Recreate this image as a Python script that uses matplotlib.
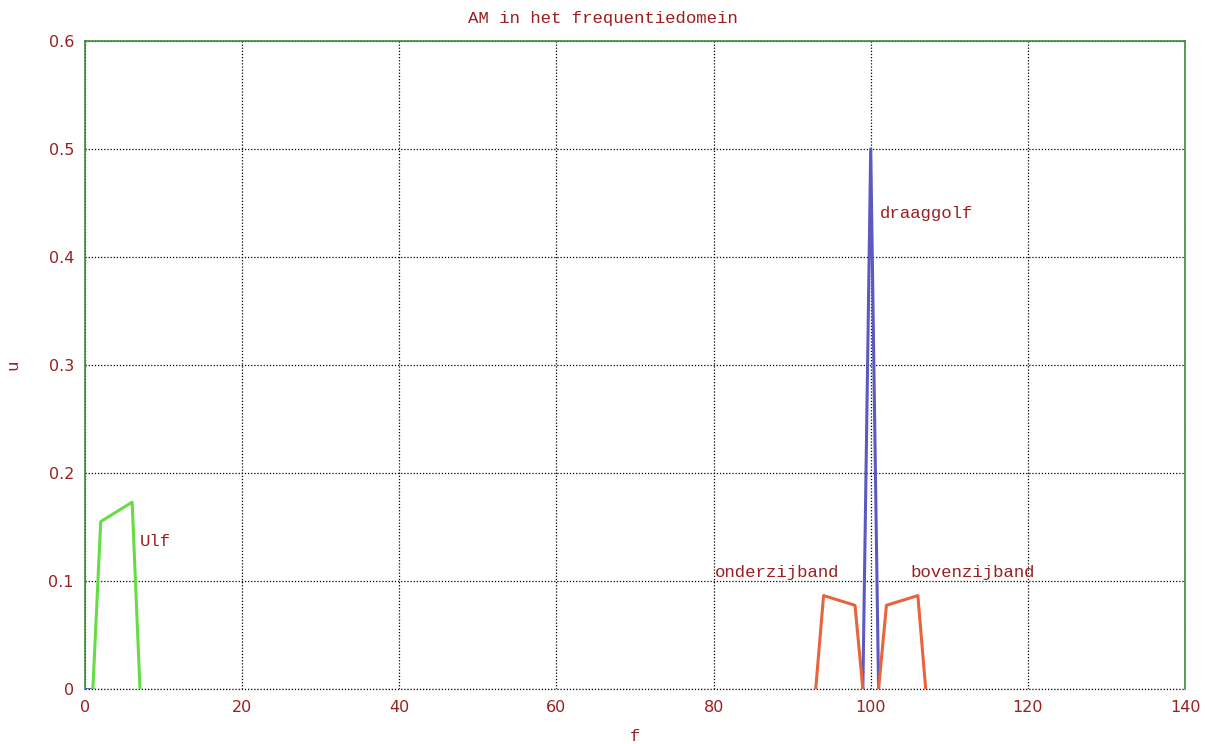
import matplotlib
matplotlib.use("Agg")
import matplotlib.pyplot as plt

# --- data ---
ulf_f = [1, 2, 3, 4, 5, 6, 7]
ulf_u = [0.0, 0.155, 0.1595, 0.164, 0.1685, 0.173, 0.0]

carrier_f = [0, 1, 99, 100, 101]
carrier_u = [0.0, 0.0, 0.0, 0.5, 0.0]

lower_f = [93, 94, 95, 96, 97, 98, 99]
lower_u = [0.0, 0.0865, 0.08425, 0.082, 0.07975, 0.0775, 0.0]

upper_f = [101, 102, 103, 104, 105, 106, 107]
upper_u = [0.0, 0.0775, 0.07975, 0.082, 0.08425, 0.0865, 0.0]

labels = ["Ulf", "draaggolf", "onderzijband", "bovenzijband"]
label_f = [7.0, 101.2, 80.2, 105.1]
label_u = [0.137, 0.44, 0.108, 0.108]

xticks = [0, 20, 40, 60, 80, 100, 120, 140]
yticks = [0, 0.1, 0.2, 0.3, 0.4, 0.5, 0.6]
yticklabels = ["0", "0.1", "0.2", "0.3", "0.4", "0.5", "0.6"]

txt_color = "#9b1f1f"
mono = ["Liberation Mono", "DejaVu Sans Mono"]

fig = plt.figure(figsize=(12.06, 7.44), dpi=100)
ax = fig.add_axes([85/1206, 1-689/744, 1100/1206, 648/744])

ax.plot(carrier_f[:2], carrier_u[:2], color="#5555bb", lw=2)
ax.plot(carrier_f[2:], carrier_u[2:], color="#5a5abf", lw=2.2)
ax.plot(ulf_f, ulf_u, color="#66dd44", lw=2.2)
ax.plot(lower_f, lower_u, color="#e8643c", lw=2.2)
ax.plot(upper_f, upper_u, color="#e8643c", lw=2.2)

for t, x, y in zip(labels, label_f, label_u):
    ax.text(x, y, t, family=mono, fontsize=12.5, color=txt_color,
            ha="left", va="center")

ax.set_xlim(0, 140)
ax.set_ylim(0, 0.6)
ax.set_xticks(xticks)
ax.set_xticklabels([str(v) for v in xticks])
ax.set_yticks(yticks)
ax.set_yticklabels(yticklabels)
ax.tick_params(length=0, labelsize=11.5, labelcolor=txt_color, pad=8)
ax.grid(True, color="black", linestyle=(0, (1, 1.5)), linewidth=0.9)
ax.set_axisbelow(True)
ax.axhline(0, color="black", linestyle=(0, (1, 1.5)), linewidth=0.9,
           clip_on=False, zorder=0.5)

for side in ["left", "top", "right"]:
    ax.spines[side].set_color("#3c8a3c")
    ax.spines[side].set_linewidth(1.2)
ax.spines["bottom"].set_visible(False)

fig.text(0.5, 1-18/744, "AM in het frequentiedomein", family=mono,
         fontsize=12.5, color=txt_color, ha="center", va="center")
ax.set_xlabel("f", family=mono, fontsize=12.5, color=txt_color, labelpad=10)
ax.set_ylabel("u", family=mono, fontsize=12.5, color=txt_color, labelpad=20)

fig.savefig("out.png", dpi=100)
